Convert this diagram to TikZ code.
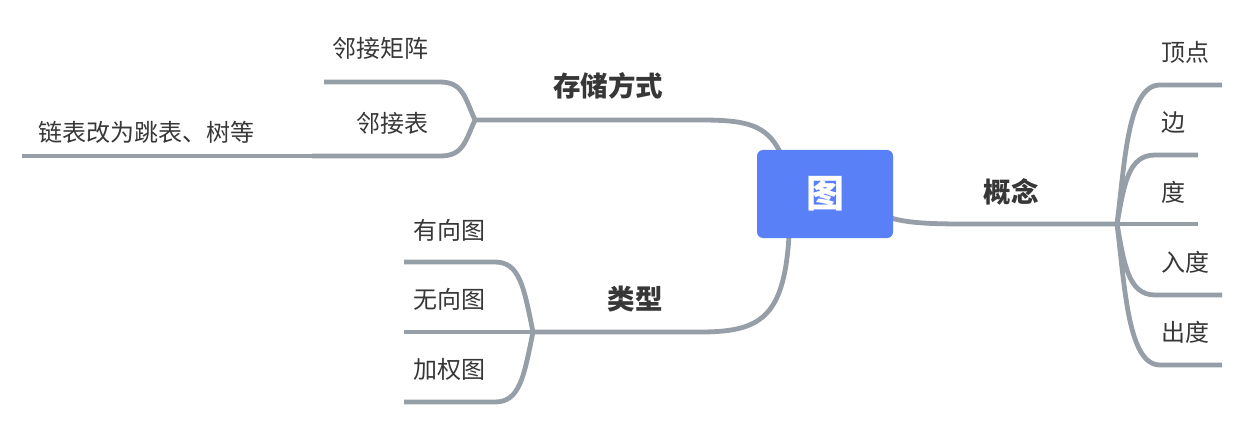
\documentclass[tikz,border=0pt]{standalone}
\usepackage{fontspec}
\setmainfont{Noto Sans CJK SC}
\definecolor{linec}{RGB}{150,158,168}
\definecolor{txt}{RGB}{55,55,55}
\definecolor{rootc}{RGB}{89,128,247}
\tikzset{
  branch/.style={draw=linec, line width=4.8pt},
  leaf/.style={font=\fontsize{24}{27}\selectfont, text=txt, anchor=west, inner sep=0pt},
  topic/.style={font=\fontsize{27.5}{30}\selectfont\bfseries, text=txt, anchor=center, inner sep=0pt},
  rootbox/.style={fill=rootc, rounded corners=6pt, minimum width=136pt, minimum height=88pt, text=white, font=\fontsize{38}{42}\selectfont\bfseries, inner sep=0pt}
}
\begin{document}
\begin{tikzpicture}[x=1pt,y=-1pt]
\useasboundingbox (0,0) rectangle (1245,425);
% coordinates
\coordinate (s0) at (780,152);
\coordinate (js) at (475,120);
\coordinate (s1e) at (324,82);
\coordinate (s2e) at (312,156);
\coordinate (s3e) at (22,156);
\coordinate (t0) at (789,236);
\coordinate (jt) at (533,332);
\coordinate (t1e) at (404,262);
\coordinate (t2e) at (404,332);
\coordinate (t3e) at (404,402);
\coordinate (c0) at (891,218);
\coordinate (jc) at (1117,224);
\coordinate (k1e) at (1222,85);
\coordinate (k2e) at (1198,155);
\coordinate (k3e) at (1198,224);
\coordinate (k4e) at (1222,295);
\coordinate (k5e) at (1222,365);
% storage branch
\draw[branch] (s0) .. controls (766,124) and (745,120) .. (700,120) -- (js);
\draw[branch] (js) .. controls (465,98) and (463,82) .. (440,82) -- (s1e);
\draw[branch] (js) .. controls (465,142) and (463,156) .. (440,156) -- (s2e);
\draw[branch] (s2e) -- (s3e);
% type branch
\draw[branch] (t0) .. controls (784,318) and (760,332) .. (700,332) -- (jt);
\draw[branch] (jt) .. controls (524,288) and (520,262) .. (495,262) -- (t1e);
\draw[branch] (jt) -- (t2e);
\draw[branch] (jt) .. controls (524,376) and (520,402) .. (495,402) -- (t3e);
% concept branch
\draw[branch] (c0) .. controls (908,223) and (930,224) .. (965,224) -- (jc);
\draw[branch] (jc) .. controls (1125,160) and (1128,85) .. (1160,85) -- (k1e);
\draw[branch] (jc) .. controls (1124,185) and (1128,155) .. (1155,155) -- (k2e);
\draw[branch] (jc) -- (k3e);
\draw[branch] (jc) .. controls (1124,263) and (1128,295) .. (1155,295) -- (k4e);
\draw[branch] (jc) .. controls (1125,288) and (1128,365) .. (1160,365) -- (k5e);
% root
\node[rootbox] (root) at (825,194) {图};
% topics
\node[topic] (storage) at (608,86) {存储方式};
\node[topic] (type) at (635,299) {类型};
\node[topic] (concept) at (1011,192) {概念};
% leaves
\node[leaf] (adjm) at (332,48) {邻接矩阵};
\node[leaf] (adjl) at (356,123) {邻接表};
\node[leaf] (skip) at (38,132) {链表改为跳表、树等};
\node[leaf] (dir) at (413,230) {有向图};
\node[leaf] (undir) at (413,299) {无向图};
\node[leaf] (wt) at (413,369) {加权图};
\node[leaf] (vert) at (1161,52) {顶点};
\node[leaf] (edge) at (1161,123) {边};
\node[leaf] (deg) at (1161,192) {度};
\node[leaf] (indeg) at (1161,262) {入度};
\node[leaf] (outdeg) at (1161,332) {出度};
\end{tikzpicture}
\end{document}
